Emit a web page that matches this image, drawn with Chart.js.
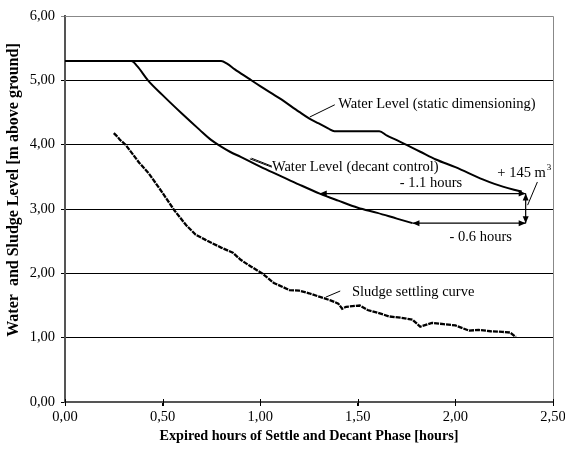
<!DOCTYPE html>
<html><head><meta charset="utf-8">
<style>html,body{margin:0;padding:0;background:#fff;}#wrap{width:565px;height:458px;}</style>
<script src="https://cdn.jsdelivr.net/npm/chart.js@4.4.0/dist/chart.umd.min.js"></script>
</head><body><div id="wrap"><canvas id="c" width="565" height="458"></canvas></div>
<script>
// ---- data ----
const xAxisTitle = 'Expired hours of Settle and Decant Phase [hours]';
const yAxisTitle = 'Water  and Sludge Level [m above ground]';
const staticX = [0, 0.80, 0.83, 0.87, 0.94, 1.00, 1.10, 1.20, 1.25, 1.30, 1.35, 1.38, 1.61, 1.65, 1.70, 1.82, 1.90, 2.00, 2.14, 2.20, 2.30, 2.34];
const staticY = [5.30, 5.30, 5.26, 5.17, 5.03, 4.91, 4.72, 4.51, 4.41, 4.33, 4.25, 4.21, 4.21, 4.14, 4.07, 3.89, 3.77, 3.65, 3.46, 3.39, 3.30, 3.27];
const decantX = [0, 0.34, 0.37, 0.425, 0.50, 0.60, 0.69, 0.75, 0.80, 0.845, 0.90, 1.00, 1.10, 1.20, 1.305, 1.40, 1.50, 1.60, 1.70, 1.78];
const decantY = [5.30, 5.30, 5.22, 5.00, 4.77, 4.48, 4.23, 4.07, 3.97, 3.89, 3.81, 3.66, 3.52, 3.38, 3.24, 3.13, 3.02, 2.94, 2.85, 2.78];
const sludgeX = [0.25, 0.27, 0.28, 0.31, 0.34, 0.38, 0.43, 0.50, 0.56, 0.62, 0.67, 0.72, 0.80, 0.86, 0.90, 0.95, 1.01, 1.07, 1.15, 1.20, 1.25, 1.31, 1.36, 1.40, 1.42, 1.44, 1.51, 1.55, 1.60, 1.66, 1.72, 1.78, 1.82, 1.88, 1.94, 2.00, 2.07, 2.12, 2.18, 2.24, 2.28, 2.31];
const sludgeY = [4.18, 4.12, 4.08, 4.00, 3.88, 3.72, 3.55, 3.25, 2.98, 2.75, 2.60, 2.52, 2.40, 2.32, 2.21, 2.11, 2.00, 1.85, 1.74, 1.73, 1.69, 1.63, 1.58, 1.53, 1.45, 1.48, 1.50, 1.43, 1.39, 1.33, 1.31, 1.28, 1.17, 1.23, 1.21, 1.19, 1.11, 1.12, 1.10, 1.09, 1.08, 1.01];
const xMin = 0, xMax = 2.5, xStep = 0.5;
const yMin = 0, yMax = 6, yStep = 1;
// annotations (data units)
const textLabels = [
  {text: 'Water Level (static dimensioning)', x: 1.40, y: 4.63},
  {text: 'Water Level (decant control)', x: 1.06, y: 3.65},
  {text: '- 1.1 hours', x: 1.715, y: 3.40},
  {text: '- 0.6 hours', x: 1.97, y: 2.565},
  {text: 'Sludge settling curve', x: 1.47, y: 1.71}
];
const volumeLabel = {text: '+ 145 m', sup: '3', x: 2.215, y: 3.56};
const pointerLines = [
  [1.254, 4.43, 1.382, 4.62],
  [0.947, 3.78, 1.06, 3.65],
  [0.955, 3.79, 1.06, 3.665],
  [1.336, 1.63, 1.41, 1.725],
  [2.42, 3.42, 2.37, 3.06]
];
const arrowLines = [
  [1.305, 3.24, 2.36, 3.24],
  [1.78, 2.78, 2.36, 2.78],
  [2.36, 3.24, 2.36, 2.78]
];

const zip = (xs, ys) => xs.map((x, i) => ({x, y: ys[i]}));
const fmt = v => Number(v).toFixed(2).replace('.', ',');
const FONT = 'Liberation Serif';

const annot = {
  id: 'annot',
  afterDraw(chart) {
    const {ctx, chartArea: a, scales: {x, y}} = chart;
    ctx.save();
    // top & right frame
    ctx.strokeStyle = '#888'; ctx.lineWidth = 1;
    ctx.beginPath();
    ctx.moveTo(a.left, a.top + 0.5); ctx.lineTo(a.right + 0.5, a.top + 0.5); ctx.lineTo(a.right + 0.5, a.bottom);
    ctx.stroke();
    // x ticks crossing the axis
    ctx.strokeStyle = '#000'; ctx.lineWidth = 1;
    x.ticks.forEach(t => {
      const px = Math.round(x.getPixelForValue(t.value)) + 0.5;
      ctx.beginPath(); ctx.moveTo(px, a.bottom - 3); ctx.lineTo(px, a.bottom + 4); ctx.stroke();
    });
    // pointer lines
    pointerLines.forEach(p => {
      ctx.beginPath();
      ctx.moveTo(x.getPixelForValue(p[0]), y.getPixelForValue(p[1]));
      ctx.lineTo(x.getPixelForValue(p[2]), y.getPixelForValue(p[3]));
      ctx.stroke();
    });
    // arrows
    ctx.lineWidth = 1.2;
    const head = (px, py, ang) => {
      const L = 7, W = 3;
      ctx.beginPath();
      ctx.moveTo(px, py);
      ctx.lineTo(px - L * Math.cos(ang) + W * Math.sin(ang), py - L * Math.sin(ang) - W * Math.cos(ang));
      ctx.lineTo(px - L * Math.cos(ang) - W * Math.sin(ang), py - L * Math.sin(ang) + W * Math.cos(ang));
      ctx.closePath(); ctx.fill();
    };
    ctx.fillStyle = '#000';
    arrowLines.forEach(p => {
      const x1 = x.getPixelForValue(p[0]), y1 = y.getPixelForValue(p[1]);
      const x2 = x.getPixelForValue(p[2]), y2 = y.getPixelForValue(p[3]);
      ctx.beginPath(); ctx.moveTo(x1, y1); ctx.lineTo(x2, y2); ctx.stroke();
      const ang = Math.atan2(y2 - y1, x2 - x1);
      head(x2, y2, ang); head(x1, y1, ang + Math.PI);
    });
    // texts
    ctx.font = '14.5px "' + FONT + '"';
    ctx.textBaseline = 'middle'; ctx.textAlign = 'left'; ctx.fillStyle = '#000';
    textLabels.forEach(t => ctx.fillText(t.text, x.getPixelForValue(t.x), y.getPixelForValue(t.y)));
    const vx = x.getPixelForValue(volumeLabel.x), vy = y.getPixelForValue(volumeLabel.y);
    ctx.fillText(volumeLabel.text, vx, vy);
    const w = ctx.measureText(volumeLabel.text).width;
    ctx.font = '9px "' + FONT + '"';
    ctx.fillText(volumeLabel.sup, vx + w + 1, vy - 5);
    // axis titles
    ctx.font = 'bold 14.2px "' + FONT + '"';
    ctx.textAlign = 'center';
    ctx.fillText(xAxisTitle, (a.left + a.right) / 2, 436);
    ctx.font = 'bold 16px "' + FONT + '"';
    ctx.translate(14, 190);
    ctx.rotate(-Math.PI / 2);
    ctx.fillText(yAxisTitle, 0, 0);
    ctx.restore();
  }
};

new Chart(document.getElementById('c'), {
  type: 'line',
  data: {
    datasets: [
      {label: 'Water Level (static dimensioning)', data: zip(staticX, staticY), borderColor: '#000', borderWidth: 2, pointRadius: 0, cubicInterpolationMode: 'monotone'},
      {label: 'Water Level (decant control)', data: zip(decantX, decantY), borderColor: '#000', borderWidth: 2, pointRadius: 0, cubicInterpolationMode: 'monotone'},
      {label: 'Sludge settling curve', data: zip(sludgeX, sludgeY), borderColor: '#000', borderWidth: 2.3, borderDash: [5, 1], pointRadius: 0, tension: 0}
    ]
  },
  options: {
    responsive: false, animation: false, devicePixelRatio: 1,
    layout: {padding: {top: 16, right: 12, left: 0, bottom: 0}},
    plugins: {legend: {display: false}, tooltip: {enabled: false}},
    scales: {
      x: {
        type: 'linear', min: xMin, max: xMax,
        ticks: {stepSize: xStep, callback: fmt, color: '#000', font: {family: FONT, size: 14.5}, padding: 2, maxRotation: 0},
        grid: {drawOnChartArea: false, drawTicks: true, tickLength: 4, color: '#000'},
        border: {color: '#555', width: 2},
        afterFit: s => { s.height = 56; s.paddingRight = 0; s.paddingLeft = 0; }
      },
      y: {
        min: yMin, max: yMax,
        ticks: {stepSize: yStep, callback: fmt, color: '#000', font: {family: FONT, size: 14.5}, padding: 6},
        grid: {color: c => (c.tick && c.tick.value === yMax) ? '#888' : '#000', lineWidth: 1, tickLength: 4},
        border: {color: '#555', width: 2},
        afterFit: s => { s.width = 65; }
      }
    }
  },
  plugins: [annot]
});
</script></body></html>
